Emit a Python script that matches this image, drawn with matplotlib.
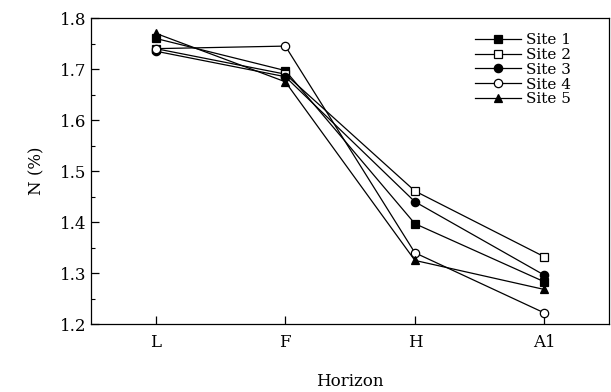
import numpy as np
import matplotlib.pyplot as plt

plt.rcParams['font.family'] = ['DejaVu Serif']

# Horizon categories and N (%) values per site
horizons = ['L', 'F', 'H', 'A1']
site1 = [1.760, 1.697, 1.397, 1.283]
site2 = [1.740, 1.690, 1.461, 1.332]
site3 = [1.735, 1.685, 1.440, 1.296]
site4 = [1.740, 1.745, 1.340, 1.222]
site5 = [1.770, 1.675, 1.325, 1.268]

sites = [('Site 1', site1, 's', 'black'),
         ('Site 2', site2, 's', 'white'),
         ('Site 3', site3, 'o', 'black'),
         ('Site 4', site4, 'o', 'white'),
         ('Site 5', site5, '^', 'black')]

fig = plt.figure(figsize=(6.11, 3.92), dpi=100)
ax = fig.add_axes([0.149, 0.173, 0.848, 0.781])

x = np.arange(len(horizons)) + 0.5
for name, vals, m, fc in sites:
    ax.plot(x, vals, color='black', lw=0.9, marker=m, markersize=6,
            markerfacecolor=fc, markeredgecolor='black', markeredgewidth=0.9,
            label=name)

ax.set_xlim(0, 4)
ax.set_ylim(1.2, 1.8)
ax.set_xticks(x)
ax.set_xticklabels(horizons)
ax.set_yticks(np.arange(1.2, 1.81, 0.1))
ax.set_yticks(np.arange(1.25, 1.8, 0.1), minor=True)
ax.tick_params(direction='in', length=6, labelsize=12, width=0.9)
ax.tick_params(which='minor', direction='in', length=3, width=0.8)
ax.tick_params(axis='x', pad=7)
for s in ax.spines.values():
    s.set_linewidth(0.9)

ax.set_xlabel('Horizon', fontsize=12, labelpad=16)
ax.set_ylabel('N (%)', fontsize=12, labelpad=10)

ax.legend(loc='upper right', bbox_to_anchor=(0.955, 1.0), frameon=False,
          fontsize=11, handlelength=3, labelspacing=0.05, borderaxespad=0.6,
          handletextpad=0.3)

fig.savefig('out.png', dpi=100)
